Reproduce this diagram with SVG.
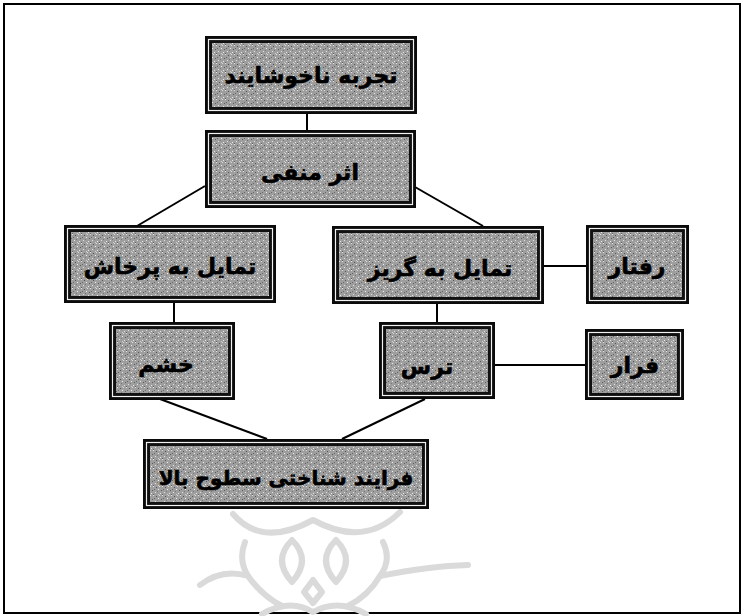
<svg xmlns="http://www.w3.org/2000/svg" width="744" height="616" viewBox="0 0 744 616">
<style>
.outer{fill:#0a0a0a;}
.gap{fill:none;stroke:#f2f2f2;stroke-width:1.2;}
.body{fill:url(#noise);stroke:#111;stroke-width:2;}
.lbl{font-family:"DejaVu Sans","Noto Sans",sans-serif;font-weight:bold;font-size:22px;fill:#000;stroke:#000;stroke-width:0.6;text-anchor:middle;direction:rtl;}
.sm{font-size:20px;}
.con{stroke:#000;stroke-width:2;fill:none;}
.wm{stroke:#dadada;stroke-width:6;fill:none;stroke-linecap:round;stroke-linejoin:round;}
</style>
<defs>
<pattern id="noise" width="9" height="9" patternUnits="userSpaceOnUse">
<rect width="9" height="9" fill="#9e9e9e"/>
<rect x="0" y="0" width="1" height="1" fill="#e6e6e6"/>
<rect x="3" y="1" width="1" height="1" fill="#555"/>
<rect x="6" y="0" width="1" height="1" fill="#dcdcdc"/>
<rect x="1" y="3" width="1" height="1" fill="#666"/>
<rect x="5" y="3" width="1" height="1" fill="#eee"/>
<rect x="8" y="4" width="1" height="1" fill="#5a5a5a"/>
<rect x="2" y="6" width="1" height="1" fill="#e0e0e0"/>
<rect x="4" y="5" width="1" height="1" fill="#777"/>
<rect x="7" y="7" width="1" height="1" fill="#e8e8e8"/>
<rect x="0" y="8" width="1" height="1" fill="#606060"/>
<rect x="5" y="8" width="1" height="1" fill="#d0d0d0"/>
</pattern>
</defs>

<rect x="4" y="4" width="736" height="609" fill="#fff" stroke="#000" stroke-width="2"/>

<g id="watermark">
<path class="wm" d="M233,514 Q262,548 313,520 Q364,548 400,512"/>
<path class="wm" d="M245,542 Q238,560 248,576 M383,542 Q392,560 380,576"/>
<path class="wm" d="M292,540 Q272,560 292,582 Q312,560 292,540 Z"/>
<path class="wm" d="M336,540 Q316,560 336,582 Q356,560 336,540 Z"/>
<path class="wm" d="M200,585 Q222,568 248,576 Q262,596 282,606 M468,565 Q430,566 380,576 Q368,596 348,606"/>
<path class="wm" d="M313,580 L304,592 L313,603 L322,592 Z"/>
<path class="wm" d="M262,614 Q290,598 313,612 Q338,598 366,614"/>
</g>

<g id="connectors">
<line class="con" x1="307" y1="114" x2="307" y2="130"/>
<line class="con" x1="205" y1="186" x2="137" y2="226"/>
<line class="con" x1="415" y1="187" x2="483" y2="226"/>
<line class="con" x1="174" y1="303" x2="174" y2="322"/>
<line class="con" x1="437" y1="304" x2="437" y2="322"/>
<line class="con" x1="544" y1="266" x2="586" y2="266"/>
<line class="con" x1="495" y1="365" x2="585" y2="365"/>
<line class="con" x1="160" y1="399" x2="267" y2="439"/>
<line class="con" x1="425" y1="399" x2="342" y2="439"/>
</g>

<g id="n1">
<rect class="outer" x="205" y="36" width="212" height="78"/>
<rect class="gap" x="208.5" y="39.5" width="205" height="71"/>
<rect class="body" x="211" y="42" width="200" height="66"/>
<text class="lbl" x="311" y="83">تجربه ناخوشایند</text>
</g>

<g id="n2">
<rect class="outer" x="205" y="130" width="211" height="78"/>
<rect class="gap" x="208.5" y="133.5" width="204" height="71"/>
<rect class="body" x="211" y="136" width="199" height="66"/>
<text class="lbl" x="310" y="180">اثر منفی</text>
</g>

<g id="n3">
<rect class="outer" x="64" y="225" width="212" height="78"/>
<rect class="gap" x="67.5" y="228.5" width="205" height="71"/>
<rect class="body" x="70" y="231" width="200" height="66"/>
<text class="lbl" x="170" y="274">تمایل به پرخاش</text>
</g>

<g id="n4">
<rect class="outer" x="332" y="226" width="212" height="78"/>
<rect class="gap" x="335.5" y="229.5" width="205" height="71"/>
<rect class="body" x="338" y="232" width="200" height="66"/>
<text class="lbl" x="440" y="276">تمایل به گریز</text>
</g>

<g id="n5">
<rect class="outer" x="586" y="225" width="103" height="79"/>
<rect class="gap" x="589.5" y="228.5" width="96" height="72"/>
<rect class="body" x="592" y="231" width="91" height="67"/>
<text class="lbl" x="637" y="274">رفتار</text>
</g>

<g id="n6">
<rect class="outer" x="109" y="322" width="126" height="78"/>
<rect class="gap" x="112.5" y="325.5" width="119" height="71"/>
<rect class="body" x="115" y="328" width="114" height="66"/>
<text class="lbl" x="166" y="372">خشم</text>
</g>

<g id="n7">
<rect class="outer" x="379" y="322" width="116" height="77"/>
<rect class="gap" x="382.5" y="325.5" width="109" height="70"/>
<rect class="body" x="385" y="328" width="104" height="65"/>
<text class="lbl" x="427" y="374">ترس</text>
</g>

<g id="n8">
<rect class="outer" x="585" y="329" width="99" height="71"/>
<rect class="gap" x="588.5" y="332.5" width="92" height="64"/>
<rect class="body" x="591" y="335" width="87" height="59"/>
<text class="lbl" x="635" y="373">فرار</text>
</g>

<g id="n9">
<rect class="outer" x="143" y="439" width="286" height="70"/>
<rect class="gap" x="146.5" y="442.5" width="279" height="63"/>
<rect class="body" x="149" y="445" width="274" height="58"/>
<text class="lbl sm" x="286" y="485">فرایند شناختی سطوح بالا</text>
</g>
</svg>
